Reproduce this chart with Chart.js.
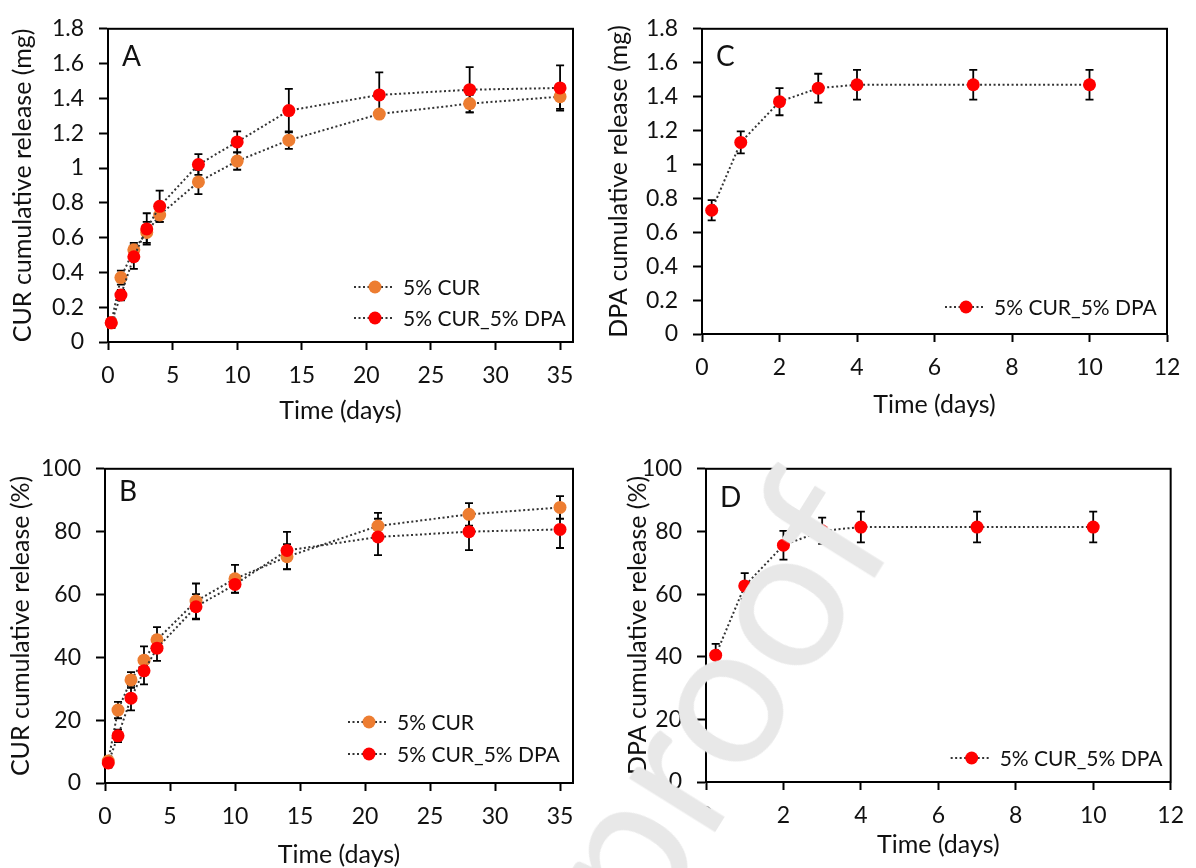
<!DOCTYPE html>
<html>
<head>
<meta charset="utf-8">
<script src="https://cdn.jsdelivr.net/npm/chart.js@4.4.1/dist/chart.umd.min.js"></script>
<style>
  html, body { margin: 0; padding: 0; background: #fff; }
  body { width: 1196px; height: 868px; position: relative; overflow: hidden; font-family: Lato, sans-serif; }
  .panel { position: absolute; }
  #wm {
    position: absolute; left: -865px; top: 395px; width: 1700px; height: 200px;
    text-align: right; font: 200px Lato, sans-serif; line-height: 200px; color: #e8e8e8;
    white-space: nowrap; transform-origin: 100% 50%; transform: rotate(-58deg); pointer-events: none;
  }
</style>
</head>
<body>
<div class="panel" style="left:0;top:0"><canvas id="chartA" width="598" height="430"></canvas></div>
<div class="panel" style="left:600px;top:0"><canvas id="chartC" width="596" height="430"></canvas></div>
<div class="panel" style="left:0;top:440px"><canvas id="chartB" width="598" height="428"></canvas></div>
<div class="panel" style="left:600px;top:440px"><canvas id="chartD" width="596" height="428"></canvas></div>
<div id="wm">Journal Pre-proof</div>
<script>
// sampling times (days)
const timeLong = [0.25, 1, 2, 3, 4, 7, 10, 14, 21, 28, 35];
const timeShort = [0.25, 1, 2, 3, 4, 7, 10];

// tick values
const xTicksLong = [0, 5, 10, 15, 20, 25, 30, 35];
const xTicksShort = [0, 2, 4, 6, 8, 10, 12];
const yTicksMg = [0, 0.2, 0.4, 0.6, 0.8, 1, 1.2, 1.4, 1.6, 1.8];
const yTicksPct = [0, 20, 40, 60, 80, 100];

// A - CUR release (mg)
const curMg = [0.11, 0.37, 0.53, 0.63, 0.73, 0.92, 1.04, 1.16, 1.31, 1.37, 1.41];
const curMgErr = [0.03, 0.04, 0.04, 0.06, 0.04, 0.07, 0.05, 0.05, 0.02, 0.05, 0.07];
const curDpaMg = [0.11, 0.27, 0.49, 0.65, 0.78, 1.02, 1.15, 1.33, 1.42, 1.45, 1.46];
const curDpaMgErr = [0.03, 0.03, 0.07, 0.09, 0.09, 0.06, 0.06, 0.125, 0.13, 0.13, 0.13];

// B - CUR release (%)
const curPct = [7.0, 23.2, 32.8, 39.1, 45.6, 57.9, 65.0, 72.0, 81.8, 85.5, 87.7];
const curPctErr = [1.5, 2.6, 2.5, 4.4, 4.0, 5.6, 4.4, 4.0, 4.2, 3.6, 3.6];
const curDpaPct = [6.4, 15.0, 27.0, 35.7, 42.9, 56.1, 63.2, 74.0, 78.3, 80.0, 80.7];
const curDpaPctErr = [1.5, 2.0, 3.9, 4.3, 4.0, 4.0, 2.7, 5.9, 5.8, 5.9, 5.9];

// C - DPA release (mg)
const dpaMg = [0.73, 1.13, 1.37, 1.45, 1.47, 1.47, 1.47];
const dpaMgErr = [0.06, 0.065, 0.08, 0.085, 0.088, 0.088, 0.088];

// D - DPA release (%)
const dpaPct = [40.5, 62.6, 75.6, 80.2, 81.4, 81.4, 81.4];
const dpaPctErr = [3.6, 4.1, 4.6, 4.2, 4.9, 4.9, 4.9];

const ORANGE = '#ED7D31';
const RED = '#FF0000';
const INK = '#111';
const FONT = 'Lato';

function pts(xs, ys) {
  return xs.map((x, i) => ({ x: x, y: ys[i] }));
}

function series(label, xs, ys, errs, color, order) {
  return {
    label: label,
    data: pts(xs, ys),
    errors: errs,
    order: order,
    borderColor: '#333',
    borderWidth: 2,
    borderDash: [2, 2.5],
    pointRadius: 6.5,
    pointHoverRadius: 6.5,
    pointBackgroundColor: color,
    pointBorderColor: color,
    pointBorderWidth: 0,
    tension: 0,
    fill: false,
    clip: false
  };
}

// vertical error bars, drawn under the lines and markers
const errorBars = {
  id: 'errorBars',
  beforeDatasetsDraw(chart) {
    const { ctx, scales: { x, y } } = chart;
    ctx.save();
    ctx.strokeStyle = '#000';
    ctx.lineWidth = 1.8;
    chart.data.datasets.forEach(ds => {
      ds.data.forEach((p, i) => {
        const e = ds.errors[i];
        const px = x.getPixelForValue(p.x);
        const top = y.getPixelForValue(p.y + e);
        const bot = y.getPixelForValue(p.y - e);
        ctx.beginPath();
        ctx.moveTo(px, top); ctx.lineTo(px, bot);
        ctx.moveTo(px - 4, top); ctx.lineTo(px + 4, top);
        ctx.moveTo(px - 4, bot); ctx.lineTo(px + 4, bot);
        ctx.stroke();
      });
    });
    ctx.restore();
  }
};

// plot frame, panel letter and the in-plot legend
const panelDecor = {
  id: 'panelDecor',
  beforeDatasetsDraw(chart) {
    const { ctx, chartArea: a } = chart;
    ctx.save();
    ctx.strokeStyle = '#000';
    ctx.lineWidth = 2;
    ctx.strokeRect(a.left, a.top, a.right - a.left, a.bottom - a.top);
    ctx.restore();
  },
  afterDraw(chart, args, o) {
    const { ctx, chartArea: a } = chart;
    ctx.save();
    ctx.fillStyle = INK;
    ctx.textBaseline = 'middle';
    ctx.font = '28px ' + FONT;
    ctx.fillText(o.letter, a.left + 14, a.top + o.letterDy);

    ctx.font = '21px ' + FONT;
    chart.data.datasets.forEach((ds, i) => {
      const yy = a.bottom - o.rows[i];
      const x0 = a.right - o.right;
      ctx.strokeStyle = '#333';
      ctx.lineWidth = 2;
      ctx.setLineDash([2, 2.5]);
      ctx.beginPath();
      ctx.moveTo(x0, yy);
      ctx.lineTo(x0 + 40, yy);
      ctx.stroke();
      ctx.setLineDash([]);
      ctx.fillStyle = ds.pointBackgroundColor;
      ctx.beginPath();
      ctx.arc(x0 + 21, yy, 6.5, 0, Math.PI * 2);
      ctx.fill();
      ctx.fillStyle = INK;
      ctx.fillText(ds.label, x0 + 49, yy + 1);
    });
    ctx.restore();
  }
};

function makePanel(id, p) {
  const ctx = document.getElementById(id).getContext('2d');
  return new Chart(ctx, {
    type: 'line',
    data: { datasets: p.datasets },
    options: {
      responsive: false,
      animation: false,
      events: [],
      layout: { padding: { top: p.padTop, right: p.padRight, left: 0, bottom: 0 } },
      plugins: {
        legend: { display: false },
        tooltip: { enabled: false },
        panelDecor: { letter: p.letter, letterDy: p.letterDy, rows: p.rows, right: p.legendRight }
      },
      scales: {
        x: {
          type: 'linear',
          min: 0,
          max: p.xMax,
          afterBuildTicks: s => { s.ticks = p.xTicks.map(v => ({ value: v })); },
          afterFit: s => { s.height = p.xAxisH; },
          grid: { drawOnChartArea: false, drawTicks: true, tickLength: 8, tickWidth: 2, tickColor: '#000' },
          border: { display: true, color: '#000', width: 2 },
          ticks: { autoSkip: false, maxRotation: 0, padding: 12, color: INK, font: { family: FONT, size: 23 } },
          title: { display: true, text: 'Time (days)', color: INK, font: { family: FONT, size: 25 }, padding: { top: 0, bottom: p.xTitlePad } }
        },
        y: {
          type: 'linear',
          min: 0,
          max: p.yMax,
          afterBuildTicks: s => { s.ticks = p.yTicks.map(v => ({ value: v })); },
          afterFit: s => { s.width = p.yAxisW; },
          grid: { drawOnChartArea: false, drawTicks: true, tickLength: 9, tickWidth: 2, tickColor: '#000' },
          border: { display: true, color: '#000', width: 2 },
          ticks: { autoSkip: false, padding: 15, color: INK, font: { family: FONT, size: 23 }, callback: v => String(+v.toFixed(1)) },
          title: { display: true, text: p.yTitle, color: INK, font: { family: FONT, size: 25 }, padding: { top: p.yTitlePad, bottom: 0 } }
        }
      }
    },
    plugins: [errorBars, panelDecor]
  });
}

makePanel('chartA', {
  datasets: [
    series('5% CUR', timeLong, curMg, curMgErr, ORANGE, 1),
    series('5% CUR_5% DPA', timeLong, curDpaMg, curDpaMgErr, RED, 0)
  ],
  xMax: 36, xTicks: xTicksLong, yMax: 1.8, yTicks: yTicksMg,
  yTitle: 'CUR cumulative release (mg)',
  padTop: 24, padRight: 25, yAxisW: 108, xAxisH: 88, xTitlePad: 4, yTitlePad: 8,
  letter: 'A', letterDy: 28, rows: [55, 24], legendRight: 219
});

makePanel('chartC', {
  datasets: [
    series('5% CUR_5% DPA', timeShort, dpaMg, dpaMgErr, RED, 0)
  ],
  xMax: 12, xTicks: xTicksShort, yMax: 1.8, yTicks: yTicksMg,
  yTitle: 'DPA cumulative release (mg)',
  padTop: 27, padRight: 29, yAxisW: 102, xAxisH: 96, xTitlePad: 10, yTitlePad: 4,
  letter: 'C', letterDy: 28, rows: [27], legendRight: 222
});

makePanel('chartB', {
  datasets: [
    series('5% CUR', timeLong, curPct, curPctErr, ORANGE, 1),
    series('5% CUR_5% DPA', timeLong, curDpaPct, curDpaPctErr, RED, 0)
  ],
  xMax: 36, xTicks: xTicksLong, yMax: 100, yTicks: yTicksPct,
  yTitle: 'CUR cumulative release (%)',
  padTop: 25, padRight: 25, yAxisW: 105, xAxisH: 85, xTitlePad: -2, yTitlePad: 6,
  letter: 'B', letterDy: 23, rows: [61, 29], legendRight: 225
});

makePanel('chartD', {
  datasets: [
    series('5% CUR_5% DPA', timeShort, dpaPct, dpaPctErr, RED, 0)
  ],
  xMax: 12, xTicks: xTicksShort, yMax: 100, yTicks: yTicksPct,
  yTitle: 'DPA cumulative release (%)',
  padTop: 17, padRight: 16, yAxisW: 106, xAxisH: 86, xTitlePad: 8, yTitlePad: 23,
  letter: 'D', letterDy: 29, rows: [24], legendRight: 220
});
</script>
</body>
</html>
